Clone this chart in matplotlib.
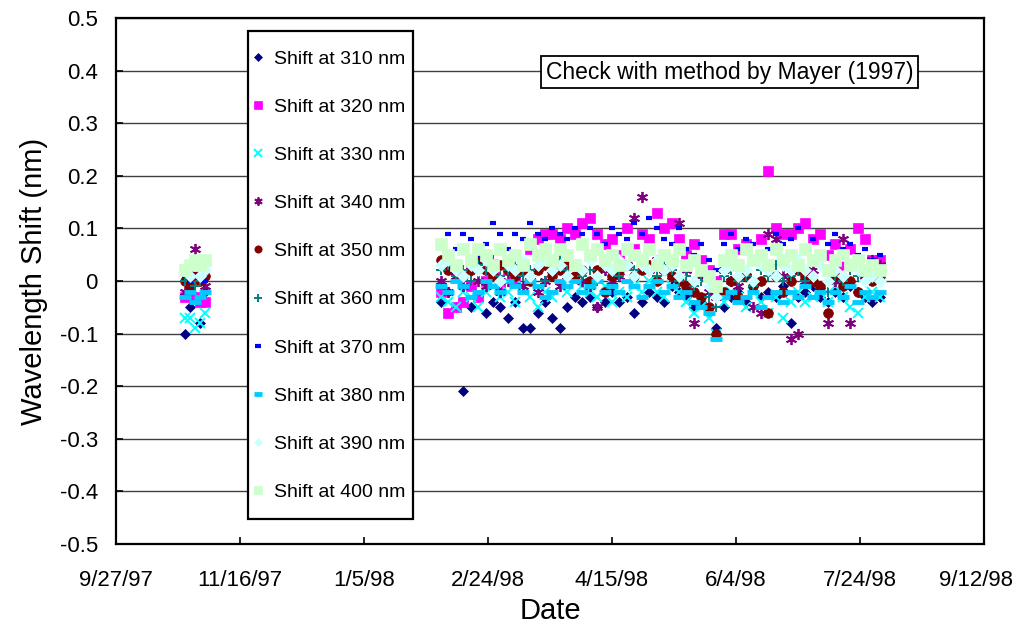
import matplotlib
matplotlib.use('Agg')
import numpy as np
import pandas as pd
import matplotlib.pyplot as plt
import matplotlib.transforms as mtransforms
from matplotlib.patches import Rectangle

plt.rcParams['font.family'] = ['Liberation Sans', 'DejaVu Sans']

# dates: short campaign in Oct 1997, then every 3rd day Feb - Aug 1998
oct_dates = ['1997-10-25', '1997-10-27', '1997-10-29', '1997-10-31', '1997-11-02']
main_dates = pd.date_range('1998-02-05', '1998-08-01', freq='3D')
dates = pd.to_datetime(oct_dates).append(main_dates)

shift_310 = [-0.10, -0.05, -0.03, -0.08, -0.02,
             -0.04, -0.02, -0.05, -0.21, -0.05, -0.03, -0.06, -0.04, -0.05, -0.07,
             -0.04, -0.09, -0.09, -0.06, -0.04, -0.07, -0.09, -0.05, -0.03, -0.04,
             -0.03, -0.05, -0.04, -0.02, -0.04, -0.03, -0.06, -0.04, -0.02, -0.03,
             -0.04, -0.01, -0.02, -0.03, -0.05, -0.04, -0.06, -0.09, -0.05, -0.03,
             -0.02, -0.04, -0.01, -0.03, -0.02, -0.03, -0.01, -0.08, -0.03, -0.02,
             -0.01, -0.03, -0.04, -0.02, -0.03, -0.01, -0.02, -0.03, -0.04, -0.03]
shift_320 = [-0.03, -0.02, -0.03, -0.04, -0.04,
             -0.02, -0.06, -0.05, -0.04, -0.01, -0.03, 0.00, 0.01, -0.01, 0.02,
             0.00, 0.03, 0.06, 0.08, 0.09, 0.09, 0.08, 0.10, 0.09, 0.11,
             0.12, 0.09, 0.07, 0.08, 0.05, 0.10, 0.06, 0.09, 0.08, 0.13,
             0.10, 0.11, 0.08, 0.05, 0.07, 0.04, 0.02, 0.00, 0.09, 0.09,
             0.06, 0.07, 0.04, 0.08, 0.21, 0.10, 0.09, 0.09, 0.10, 0.11,
             0.08, 0.09, 0.05, 0.07, 0.03, 0.06, 0.10, 0.08, 0.04, 0.04]
shift_330 = [-0.07, -0.07, -0.09, -0.08, -0.06,
             -0.03, -0.04, -0.05, -0.02, -0.03, -0.05, -0.02, -0.01, -0.03, -0.02,
             -0.04, -0.01, -0.03, -0.05, -0.02, -0.03, -0.01, -0.02, 0.00, -0.01,
             -0.02, -0.03, -0.01, -0.04, -0.02, -0.03, -0.01, -0.02, 0.00, -0.02,
             -0.03, -0.01, -0.02, -0.04, -0.06, -0.05, -0.07, -0.10, -0.04, -0.02,
             -0.03, -0.05, -0.02, -0.04, -0.06, -0.03, -0.07, -0.04, -0.02, -0.04,
             -0.03, -0.02, -0.04, -0.01, -0.03, -0.05, -0.06, -0.03, -0.02, -0.03]
shift_340 = [-0.02, 0.02, 0.06, 0.01, -0.01,
             0.00, -0.02, 0.01, -0.01, 0.02, 0.00, -0.01, 0.01, -0.02, 0.00,
             0.02, -0.01, 0.01, -0.02, 0.00, 0.02, -0.01, 0.01, 0.03, 0.00,
             -0.01, -0.05, 0.02, 0.00, 0.01, 0.03, 0.12, 0.16, 0.02, 0.04,
             0.02, 0.01, 0.11, 0.02, -0.08, 0.01, -0.02, -0.03, 0.02, 0.00,
             -0.01, 0.01, -0.05, -0.06, 0.09, 0.08, 0.01, -0.11, -0.10, 0.00,
             0.02, -0.01, -0.08, 0.00, 0.08, -0.08, 0.03, 0.01, 0.04, 0.03]
shift_350 = [0.00, -0.01, 0.01, 0.00, 0.01,
             0.04, 0.02, 0.03, 0.01, 0.02, 0.04, 0.02, 0.01, 0.03, 0.02,
             0.01, 0.02, 0.00, 0.02, 0.03, 0.01, 0.02, 0.03, 0.01, 0.02,
             0.00, 0.02, -0.02, 0.01, 0.02, 0.03, 0.01, 0.02, 0.03, 0.00,
             0.02, 0.01, 0.00, -0.01, -0.02, -0.03, -0.05, -0.10, -0.02, 0.00,
             -0.03, 0.01, -0.01, 0.00, -0.06, 0.01, -0.02, 0.00, 0.02, 0.01,
             0.00, -0.01, -0.06, 0.01, -0.01, 0.00, -0.02, 0.01, 0.00, 0.01]
shift_360 = [0.00, 0.01, -0.01, 0.00, 0.02,
             0.02, 0.03, 0.01, 0.02, 0.00, 0.03, 0.02, 0.04, 0.01, 0.02,
             0.03, 0.01, 0.02, 0.03, 0.00, 0.02, 0.04, 0.02, 0.03, 0.01,
             0.02, 0.00, 0.03, 0.02, 0.01, 0.03, 0.02, 0.04, 0.02, 0.01,
             0.03, 0.02, 0.00, 0.01, -0.01, 0.00, -0.03, -0.05, 0.01, 0.02,
             0.00, 0.01, -0.01, 0.02, 0.01, 0.03, 0.00, 0.01, 0.02, 0.00,
             0.01, 0.03, -0.02, 0.01, 0.00, 0.02, 0.01, 0.00, 0.02, 0.01]
shift_370 = [0.01, 0.00, 0.02, 0.01, 0.00,
             0.07, 0.09, 0.06, 0.09, 0.08, 0.05, 0.07, 0.11, 0.09, 0.06,
             0.09, 0.08, 0.11, 0.09, 0.08, 0.10, 0.09, 0.08, 0.10, 0.09,
             0.10, 0.09, 0.07, 0.10, 0.09, 0.08, 0.11, 0.09, 0.12, 0.10,
             0.08, 0.07, 0.10, 0.06, 0.05, 0.07, 0.04, 0.02, 0.07, 0.09,
             0.06, 0.08, 0.07, 0.05, 0.06, 0.09, 0.07, 0.08, 0.10, 0.06,
             0.08, 0.05, 0.07, 0.09, 0.06, 0.07, 0.05, 0.06, 0.04, 0.05]
shift_380 = [-0.03, -0.02, -0.04, -0.03, -0.02,
             -0.01, -0.02, 0.00, -0.01, -0.03, -0.02, 0.00, -0.01, -0.02, 0.00,
             -0.01, -0.02, 0.00, -0.01, -0.03, -0.02, 0.00, -0.01, 0.00, -0.02,
             -0.01, 0.00, -0.02, -0.01, -0.02, 0.00, -0.01, -0.03, -0.01, 0.00,
             -0.02, -0.01, -0.03, -0.02, -0.04, -0.05, -0.06, -0.11, -0.03, -0.02,
             -0.04, -0.03, -0.02, -0.05, -0.03, -0.02, -0.04, -0.02, -0.03, -0.01,
             -0.03, -0.02, -0.04, -0.02, -0.03, -0.01, -0.04, -0.02, -0.03, -0.02]
shift_390 = [0.02, 0.01, 0.03, 0.01, 0.02,
             0.03, 0.04, 0.02, 0.01, 0.03, 0.02, 0.04, 0.02, 0.00, 0.03,
             0.02, 0.04, 0.01, 0.03, 0.04, 0.02, 0.03, 0.01, 0.03, 0.02,
             0.04, 0.01, 0.03, 0.02, 0.04, 0.03, 0.01, 0.03, 0.02, 0.04,
             0.02, 0.03, 0.01, 0.03, 0.00, 0.02, -0.01, -0.03, 0.02, 0.03,
             0.01, 0.02, 0.00, 0.03, 0.02, 0.01, 0.03, 0.02, 0.04, 0.02,
             0.01, 0.03, 0.00, 0.02, 0.01, 0.03, 0.02, 0.00, 0.01, 0.00]
shift_400 = [0.02, 0.03, 0.04, 0.03, 0.04,
             0.07, 0.05, 0.03, 0.06, 0.04, 0.06, 0.05, 0.03, 0.06, 0.04,
             0.05, 0.03, 0.07, 0.05, 0.06, 0.04, 0.06, 0.05, 0.03, 0.07,
             0.05, 0.06, 0.04, 0.05, 0.03, 0.06, 0.05, 0.04, 0.06, 0.03,
             0.05, 0.04, 0.06, 0.03, 0.04, 0.02, 0.01, -0.01, 0.04, 0.05,
             0.03, 0.06, 0.04, 0.05, 0.03, 0.06, 0.04, 0.05, 0.03, 0.06,
             0.04, 0.05, 0.02, 0.04, 0.05, 0.03, 0.04, 0.02, 0.03, 0.02]

labels = ['Shift at %d nm' % w for w in range(310, 410, 10)]
series = [shift_310, shift_320, shift_330, shift_340, shift_350,
          shift_360, shift_370, shift_380, shift_390, shift_400]
# Excel style markers: (marker, color, size, edge width)
styles = [('D', '#000080', 5.5, 0.5),
          ('s', '#FF00FF', 7, 0.5),
          ('x', '#00FFFF', 7, 1.4),
          ((6, 2, 0), '#800080', 8, 1.3),
          ('o', '#800000', 7, 0.5),
          ('+', '#008080', 7.5, 1.4),
          ('_', '#0000FF', 5, 3),
          ('_', '#00CCFF', 8, 3.5),
          ('D', '#CCFFFF', 6, 0.5),
          ('s', '#CCFFCC', 8, 0.5)]

tick_labels = ['9/27/97', '11/16/97', '1/5/98', '2/24/98', '4/15/98', '6/4/98', '7/24/98', '9/12/98']
tick_pos = pd.to_datetime(tick_labels, format='%m/%d/%y')
y_ticks = [0.5, 0.4, 0.3, 0.2, 0.1, 0, -0.1, -0.2, -0.3, -0.4, -0.5]
y_labels = ['0.5', '0.4', '0.3', '0.2', '0.1', '0', '-0.1', '-0.2', '-0.3', '-0.4', '-0.5']

fig = plt.figure(figsize=(10.16, 6.25), dpi=100)
ax = fig.add_axes([0.1142, 0.1296, 0.8543, 0.8416])

for vals, lab, (m, c, s, mew) in zip(series, labels, styles):
    ax.plot(dates, vals, linestyle='none', marker=m, color=c, markersize=s,
            markeredgewidth=mew, markeredgecolor=c, label=lab, zorder=3)

ax.set_xlim(tick_pos[0], tick_pos[-1])
ax.set_ylim(-0.5, 0.5)
ax.set_xticks(tick_pos)
ax.set_xticklabels(tick_labels)
ax.set_yticks(y_ticks)
ax.set_yticklabels(y_labels)
ax.yaxis.grid(True, color='#404040', linewidth=1)
ax.set_axisbelow(True)
for sp in ax.spines.values():
    sp.set_linewidth(1.6)
ax.tick_params(axis='x', direction='in', length=5, width=1.2, labelsize=16, pad=19)
ax.tick_params(axis='y', direction='in', length=5, width=1.2, labelsize=16, pad=13)
# keep last date label inside the figure, as in the original
last = ax.get_xticklabels()[-1]
last.set_transform(last.get_transform() + mtransforms.ScaledTranslation(-6 / 72, 0, fig.dpi_scale_trans))

ax.set_xlabel('Date', fontsize=21, labelpad=4)
ax.set_ylabel('Wavelength Shift (nm)', fontsize=21, labelpad=8)

# legend box drawn by hand so the tall Excel frame can be matched
box = Rectangle((0.152, 0.0475), 0.19, 0.9275, transform=ax.transAxes,
                facecolor='white', edgecolor='black', linewidth=1.6, zorder=4)
ax.add_patch(box)
leg = ax.legend(loc='upper left', bbox_to_anchor=(0.158, 0.939), fontsize=14,
                labelspacing=1.57, handlelength=0.5, handletextpad=0.55,
                borderpad=0, borderaxespad=0, markerscale=0.75, frameon=False)
leg.set_zorder(5)

ax.text(0.707, 0.897, 'Check with method by Mayer (1997)', transform=ax.transAxes,
        fontsize=16.5, ha='center', va='center', zorder=5,
        bbox=dict(boxstyle='square,pad=0.2', facecolor='white', edgecolor='black', linewidth=1.3))

fig.savefig('out.png', dpi=100)
